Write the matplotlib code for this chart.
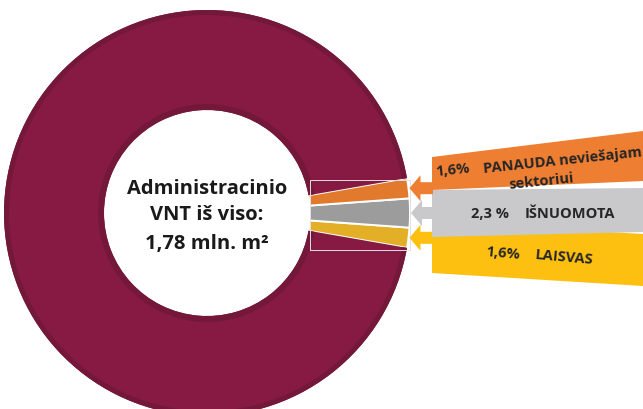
import matplotlib.pyplot as plt
import numpy as np
from matplotlib.patches import Polygon, Rectangle

plt.rcParams['font.family'] = ['Open Sans', 'DejaVu Sans']

# slices, counter-clockwise from the start angle
categories = ["LAISVAS", "IŠNUOMOTA", "PANAUDA neviešajam", "Kita"]
shares = [1.6, 2.3, 1.6, 94.5]
share_labels = ["1,6%", "2,3 %", "1,6%"]
colors = ["#E3AF27", "#9C9C9C", "#E27A2E", "#861A42"]
box_colors = ["#FDC010", "#C9C9CB", "#EE7E32"]

W, H = 643, 409
fig = plt.figure(figsize=(W / 100, H / 100), dpi=100)
ax = fig.add_axes([0, 0, 1, 1])

cx, cy = 207, H - 213
R, inner = 203, 103
start = -360 * (shares[0] + shares[1] / 2) / 100

wedges, _ = ax.pie(shares, colors=colors, radius=R, center=(cx, cy),
                   startangle=start, counterclock=True, frame=True,
                   wedgeprops=dict(width=R - inner, edgecolor='white', linewidth=1.4))
wedges[3].set_edgecolor('none')
# darker rims on the big slice
rim = ['none', 'none', 'none', '#74183A']
ax.pie(shares, colors=rim, radius=R, center=(cx, cy), startangle=start, frame=True,
       wedgeprops=dict(width=5, linewidth=0))
ax.pie(shares, colors=rim, radius=inner + 6, center=(cx, cy), startangle=start, frame=True,
       wedgeprops=dict(width=6, linewidth=0))
ax.set_xlim(0, W)
ax.set_ylim(0, H)
ax.set_aspect('equal')
ax.axis('off')

# faint frame around the small slices
ax.add_patch(Rectangle((310, H - 250), 100, 70, fill=False, edgecolor='#e2e2e2', linewidth=0.7))

# label boxes with arrows
boxes = [
    [(432, H - 222), (643, H - 234), (643, H - 286), (432, H - 273)],
    [(432, H - 190), (643, H - 188), (643, H - 232), (432, H - 237)],
    [(432, H - 157), (643, H - 131), (643, H - 181), (432, H - 190)],
]

for i in range(3):
    w = wedges[i]
    mid = np.deg2rad((w.theta1 + w.theta2) / 2)
    tx = cx + R * np.cos(mid) + 1
    ty = cy + R * np.sin(mid)
    head = [(tx, ty), (tx + 11, ty + 13), (tx + 11, ty + 6), (433, ty + 6),
            (433, ty - 6), (tx + 11, ty - 6), (tx + 11, ty - 13)]
    ax.add_patch(Polygon(head, closed=True, facecolor=box_colors[i], edgecolor='none'))
    ax.add_patch(Polygon(boxes[i], closed=True, facecolor=box_colors[i], edgecolor='none'))

lab = dict(fontsize=10.5, fontweight='bold', color='#262626', va='center', ha='center')
ax.text(503, H - 254, share_labels[0], rotation=-5, **lab)
ax.text(564, H - 258, categories[0], rotation=-5, **lab)
ax.text(490, H - 214, share_labels[1], **lab)
ax.text(570, H - 214, categories[1], **lab)
ax.text(453, H - 170, share_labels[2], rotation=6, **lab)
ax.text(563, H - 161, categories[2], rotation=6, **lab)
ax.text(541, H - 182, "sektoriui", rotation=6, **lab)

# centre text
ctr = dict(fontsize=14.5, fontweight='bold', color='#1a1a1a', ha='center', va='center')
ax.text(cx, H - 189, "Administracinio", **ctr)
ax.text(cx, H - 215, "VNT iš viso:", **ctr)
ax.text(cx, H - 244, "1,78 mln. m²", **ctr)

fig.savefig('out.png', dpi=100)
